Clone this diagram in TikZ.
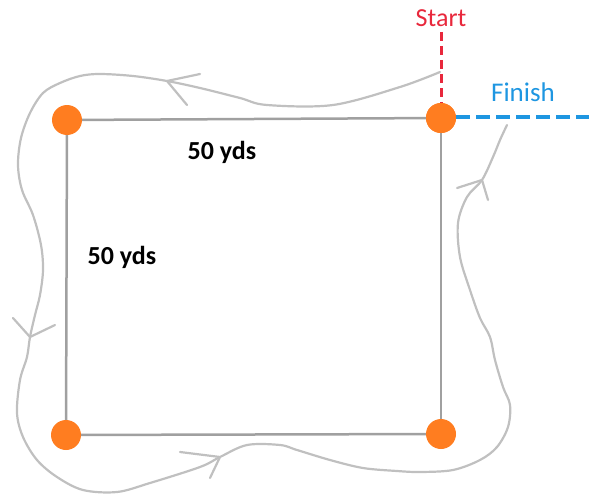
\documentclass[tikz,border=0pt]{standalone}
\usepackage{fontspec}
\setmainfont{Carlito}
\begin{document}
\begin{tikzpicture}[x=1pt,y=-1pt,
  dot/.style={circle,fill=dotorange,inner sep=0pt,minimum size=30pt},
  sqline/.style={draw=sqgrey,line width=2.5pt},
  route/.style={draw=routegrey,line width=2.2pt,line cap=round,line join=round},
  lbl/.style={font=\bfseries\fontsize{26}{29}\selectfont,text=black,inner sep=0pt}]
\definecolor{dotorange}{RGB}{255,125,32}
\definecolor{sqgrey}{RGB}{160,160,160}
\definecolor{routegrey}{RGB}{192,192,192}
\definecolor{startred}{RGB}{232,40,60}
\definecolor{finishblue}{RGB}{30,150,225}
\useasboundingbox (0,0) rectangle (589,495);

% route loop
\draw[route] plot[smooth,tension=0.55] coordinates {
 (507,125) (500,140) (493,157) (482,180) (467,197) (458,223) (460,257) (470,290)
 (480,318) (490,337) (495,360) (503,387) (510,405) (508,427) (497,447) (480,460)
 (453,470) (420,472) (397,471) (363,468) (330,460) (297,450) (280,445) (247,445)
 (220,457) (200,467) (150,483) (117,492) (83,490) (57,477) (37,460) (23,437)
 (17,413) (20,380) (27,357) (30,337) (35,315) (40,295) (43,270) (41,245)
 (33,215) (22,190) (18,165) (21,138) (30,113) (43,93) (60,83) (80,76) (100,74)
 (133,76) (167,81) (200,88) (240,98) (267,105) (333,105) (400,87) (440,72)};
% arrow barbs
\coordinate (a1) at (167,81);
\draw[route] (a1) -- (200,74) (a1) -- (187,105);
\coordinate (a2) at (30,337);
\draw[route] (a2) -- (13,318) (a2) -- (55,325);
\coordinate (a3) at (220,457);
\draw[route] (a3) -- (180,452) (a3) -- (210,478);
\coordinate (a4) at (482,180);
\draw[route] (a4) -- (457,188) (a4) -- (488,200);

% start / finish
\node[text=startred,font=\fontsize{26}{29}\selectfont,inner sep=0pt] (start) at (441,18) {Start};
\coordinate (startend) at (441,32);
\node[text=finishblue,font=\fontsize{27}{30}\selectfont,inner sep=0pt] (finish) at (523,92) {Finish};
\coordinate (finishend) at (589,117);

% square
\node[dot] (tl) at (67,120) {};
\node[dot] (tr) at (441,118) {};
\node[dot] (bl) at (66,435) {};
\node[dot] (br) at (441,434) {};
\draw[sqline] (tl) -- (tr);
\draw[sqline] (tl) -- (bl);
\draw[sqline] (bl) -- (br);
\draw[sqline] (tr) -- (br);

\draw[startred,line width=3pt,dash pattern=on 9pt off 5pt] (startend) -- (tr.center);
\draw[finishblue,line width=4pt,dash pattern=on 14pt off 6pt] (tr.east) ++(0,-1) -- (finishend);
\node[dot] at (tr.center) {};

\node[lbl] (top) at (222,152) {50 yds};
\node[lbl] (left) at (122,257) {50 yds};
\end{tikzpicture}
\end{document}
